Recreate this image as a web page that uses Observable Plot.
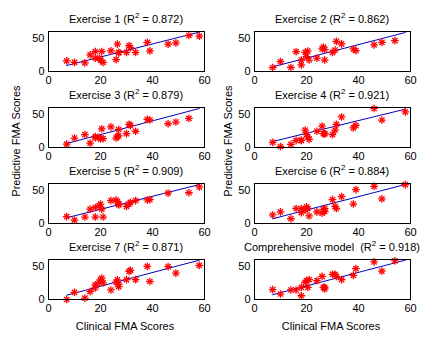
<!DOCTYPE html>
<html><head><meta charset="utf-8">
<script src="https://cdn.jsdelivr.net/npm/d3@7"></script>
<script src="https://cdn.jsdelivr.net/npm/@observablehq/plot@0.6"></script>
<style>
body{margin:0;background:#fff;}
#chart{position:relative;width:434px;height:355px;background:#fff;font-family:"Liberation Sans",Arial,sans-serif;color:#000;overflow:hidden}
.ttl,.lab{position:absolute;white-space:pre;font-size:11px;line-height:11px;transform:translate(-50%,-50%);}
.ttl sup{font-size:8px;vertical-align:0;position:relative;top:-5px;line-height:0}
.rot{transform:translate(-50%,-50%) rotate(-90deg);}
.panel{position:absolute}
</style></head><body><div id="chart"></div>
<script>
// Clinical FMA score of each patient (shared x values)
const clinical = [7, 10, 14, 16, 18, 18, 19.5, 20, 20.5, 21, 24, 26, 26.5, 27, 27, 30, 31, 31.5, 33.5, 38, 39, 46, 49, 54, 58];
// Predictive FMA scores per model (values above 60 fall outside the axes)
const ex1 = [16, 13.6, 13, 25, 30, 20, 20, 17, 30, 13.6, 31, 17.7, 41, 28.7, 28, 28.7, 38.8, 36, 28.7, 43.8, 31, 41, 43, 54, 53];
const ex2 = [6, 14.7, 6, 29.8, 17.2, 10, 28.7, 22.2, 30.5, 17.2, 20, 33.8, 36.8, 17.2, 33, 28.7, 32.2, 45.3, 41.4, 33.8, 31.3, 39.9, 43.8, 46.4, 64];
const ex3 = [5, 14.2, 19.3, 6.6, 14.7, 16.3, 15.3, 12.7, 28, 13.2, 31, 14.2, 16.8, 27, 17.3, 20.9, 34.7, 33.1, 24.4, 42.3, 41.3, 35.6, 38.2, 43.8, 63];
const ex4 = [7.6, 1.5, 4.6, 10.7, 10.7, 10.7, 26, 19.3, 15.8, 12.2, 24.4, 32, 20.9, 20.4, 21, 19.3, 26, 34.7, 45.8, 29.5, 33.1, 58.5, 41.2, 65, 53.4];
const ex5 = [10.2, 5.1, 9.7, 21.5, 24, 9.7, 26.6, 29.2, 21.5, 9.7, 34.3, 35.3, 33, 29.2, 28, 25.6, 29.2, 31.8, 34.3, 35.3, 35.9, 45.5, 62, 46.1, 54.8];
const ex6 = [12.8, 17.4, 7.1, 22.5, 22.5, 16.4, 20.5, 25.1, 22.5, 11.3, 17.4, 15.4, 20.5, 22.5, 18, 35.8, 25.6, 22.5, 40.4, 29.2, 50.7, 55.8, 36.9, 64, 58.4];
const ex7 = [0, 10.7, 2.1, 11.7, 17.3, 21.9, 25.9, 29.4, 32, 25, 14.3, 25.9, 29.4, 22.8, 19.3, 29.9, 42.2, 43.6, 29.9, 49.8, 27, 49.3, 39.6, 63, 51.3];
const comp = [14.8, 8.2, 14.3, 14.3, 18.3, 5.6, 25.9, 28.4, 18.3, 29.9, 28.4, 34.6, 18.3, 15.8, 18.3, 37.6, 37.6, 34.6, 29.9, 36.1, 46.3, 56.4, 42.6, 57.9, 64];
// Fitted line: predicted value at the two ends of the clinical range
const fitX = [7, 58];
const fit1 = [9, 59], fit2 = [7, 58.5], fit3 = [6, 58.5], fit4 = [9, 57.5];
const fit5 = [8.6, 58.4], fit6 = [7.1, 58.5], fit7 = [6.5, 59], fitC = [7.2, 59];
// Titles
const names = ["Exercise 1", "Exercise 2", "Exercise 3", "Exercise 4", "Exercise 5", "Exercise 6", "Exercise 7", "Comprehensive model "];
const r2 = ["0.872", "0.862", "0.879", "0.921", "0.909", "0.884", "0.871", "0.918"];
const xTicks = [0, 20, 40, 60];
const yTicks = [0, 50];
const xLabel = "Clinical FMA Scores";
const yLabel = "Predictive FMA Scores";

const series = [ex1, ex2, ex3, ex4, ex5, ex6, ex7, comp];
const fits = [fit1, fit2, fit3, fit4, fit5, fit6, fit7, fitC];

const chart = document.getElementById("chart");
const colLeft = [48, 254];
const rowTop = [31, 107, 183, 259];
const boxW = 156, boxH = 40;
const mL = 30, mR = 6, mT = 3, mB = 18;
const font = '"Liberation Sans", Arial, sans-serif';

series.forEach((vals, i) => {
  const r = Math.floor(i / 2), c = i % 2;
  const pts = clinical.map((x, k) => ({x, y: vals[k]}));
  const fit = fitX.map((x, k) => ({x, y: fits[i][k]}));
  const svg = Plot.plot({
    width: mL + boxW + mR, height: mT + boxH + mB,
    marginLeft: mL, marginRight: mR, marginTop: mT, marginBottom: mB,
    style: {fontFamily: font, fontSize: "11px", color: "#000", background: "transparent", overflow: "visible"},
    x: {domain: [0, 60], label: null},
    y: {domain: [0, 60], label: null},
    marks: [
      Plot.axisX({ticks: xTicks, tickSize: 0, tickPadding: 5, label: null, fontSize: 11}),
      Plot.axisY({ticks: yTicks, tickSize: 0, tickPadding: 4, label: null, fontSize: 11}),
      Plot.line(fit, {x: "x", y: "y", stroke: "#0000c8", strokeWidth: 1}),
      Plot.dot(pts, {x: "x", y: "y", filter: d => d.y <= 60, symbol: "plus", r: 2.6, stroke: "#ff0000", strokeWidth: 1.3}),
      Plot.dot(pts, {x: "x", y: "y", filter: d => d.y <= 60, symbol: "times", r: 2.5, stroke: "#ff0000", strokeWidth: 1.3}),
      Plot.frame({stroke: "#000", strokeWidth: 1})
    ]
  });
  svg.classList.add("panel");
  svg.style.left = (colLeft[c] - mL) + "px";
  svg.style.top = (rowTop[r] - mT) + "px";
  chart.appendChild(svg);

  const t = document.createElement("div");
  t.className = "ttl";
  t.innerHTML = `${names[i]} (R<sup>2</sup> = ${r2[i]})`;
  t.style.left = (colLeft[c] + boxW / 2) + "px";
  t.style.top = (rowTop[r] - 12) + "px";
  chart.appendChild(t);
});

[0, 1].forEach(c => {
  const xl = document.createElement("div");
  xl.className = "lab";
  xl.textContent = xLabel;
  xl.style.left = (colLeft[c] + boxW / 2 - 1) + "px";
  xl.style.top = "326px";
  chart.appendChild(xl);
  const yl = document.createElement("div");
  yl.className = "lab rot";
  yl.textContent = yLabel;
  yl.style.left = (c === 0 ? 16 : 228) + "px";
  yl.style.top = "141px";
  chart.appendChild(yl);
});
</script></body></html>
